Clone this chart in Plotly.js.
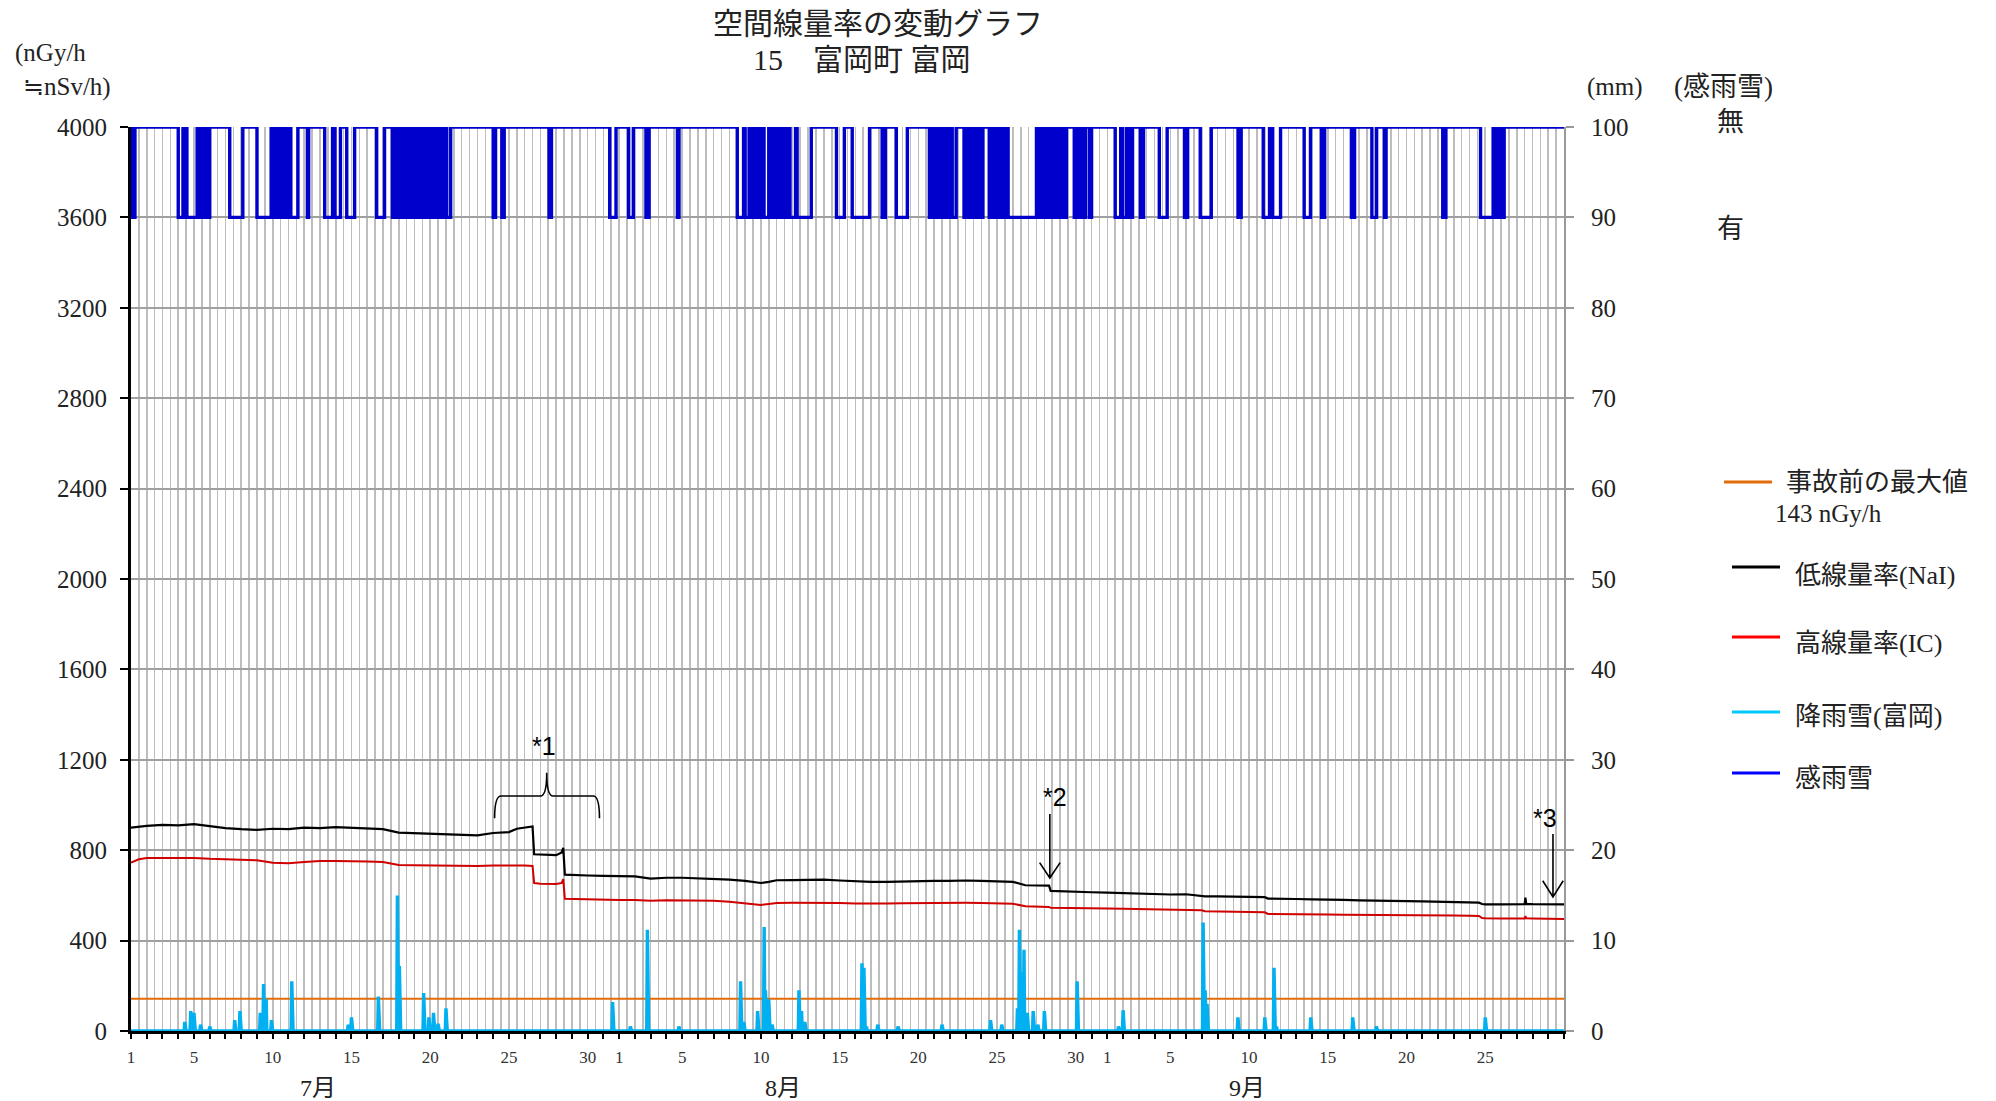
<!DOCTYPE html>
<html>
<head>
<meta charset="utf-8">
<script src="https://cdn.plot.ly/plotly-3.0.1.min.js"></script>
<style>
html,body{margin:0;padding:0;background:#fff;}
#chart{width:1996px;height:1101px;}
</style>
</head>
<body>
<div id="chart"></div>
<script>
// ---------- DATA ----------
// x = day index from 1 July 00:00 (0) to 30 Sept (91)
const dayTickDays = [0,4,9,14,19,24,29,31,35,40,45,50,55,60,62,66,71,76,81,86];
const dayTickText = ['1','5','10','15','20','25','30','1','5','10','15','20','25','30','1','5','10','15','20','25'];
const monthLabels = ['7月','8月','9月'];
const monthLabelDays = [11.9, 41.4, 70.9];

const preAccidentMax = 143; // nGy/h

// Low dose rate (NaI) readings, nGy/h
const naiT = [0,0.5,1,2,3,4,5,6,7,8,9,10,11,12,13,14,15,16,17,18,19,20,21,22,23,24,24.5,25,25.5,25.6,26,27,27.35,27.45,27.55,28,29,30,31,32,33,34,35,36,37,38,39,40,40.5,41,42,43,44,45,46,47,48,49,50,51,52,53,54,55,56,56.8,57.5,58.3,58.4,59,60,61,62,63,64,65,66,67,68,68.2,69,70,71,72,72.2,73,74,75,76,77,78,79,80,81,82,83,84,85,85.6,85.8,86,87,88,88.5,88.55,88.6,89,90,91];
const naiV = [900,905,908,912,910,915,905,898,893,890,895,893,900,898,902,900,896,893,878,876,872,870,868,866,876,880,895,900,905,782,780,778,790,810,692,690,688,686,686,684,674,678,678,676,675,670,664,655,660,667,668,668,670,666,662,660,660,662,663,664,664,666,664,662,660,645,644,643,620,618,616,614,612,610,608,605,604,605,600,596,596,594,593,592,586,586,584,582,582,580,578,578,577,575,574,573,572,571,568,562,560,560,561,561,590,562,561,560,560];

// High dose rate (IC) readings, nGy/h
const icT = naiT;
const icV = [745,760,765,766,764,766,762,760,760,755,745,742,748,752,752,752,750,748,735,733,732,731,730,730,732,733,733,732,730,655,652,650,655,672,585,584,582,580,580,580,576,578,578,577,576,572,566,558,562,566,567,567,568,566,564,563,564,565,566,566,566,567,566,565,563,552,550,549,545,544,544,543,542,541,540,538,537,538,534,530,529,528,527,525,518,518,516,515,515,514,514,513,513,512,512,512,511,510,509,500,499,498,498,498,508,499,498,497,496];

// Rainfall (Tomioka), hourly; only hours with rain listed (all other hours 0 mm)
const rainHour = [82,91,96,106,120,158,166,197,202,206,214,245,331,336,377,406,409,446,454,461,468,480,734,761,787,835,929,934,955,965,967,972,977,1018,1022,1027,1114,1117,1121,1138,1169,1236,1310,1327,1351,1354,1357,1361,1366,1375,1382,1392,1442,1505,1512,1634,1637,1640,1687,1728,1742,1746,1798,1862,1898,2064];
const rainMM   = [1.0,2.2,2.0,0.7,0.5,1.2,2.2,2.0,5.2,3.5,1.2,5.5,0.7,1.5,3.8,15.0,7.2,4.2,1.5,2.0,0.8,2.5,3.2,0.5,11.2,0.5,5.5,1.0,2.2,11.5,4.5,3.5,0.7,4.5,2.2,1.0,7.5,7.0,0.5,0.7,0.5,0.7,1.2,0.7,2.5,11.2,6.5,9.0,2.0,2.2,0.7,2.2,5.5,0.5,2.3,12.0,4.5,3.0,1.5,1.5,7.0,0.5,1.5,1.5,0.5,1.5];
const totalHours = 91*24;

// Rain sensor "detected" periods (start, end) in day index
const senseStart = [0.1,3.0,3.35,3.55,4.3,4.45,4.65,4.9,6.27,8.0,9.0,9.15,9.35,9.55,9.75,9.95,10.15,11.2,12.3,12.95,13.7,15.6,16.6,16.85,17.05,17.25,17.6,17.85,18.05,18.25,18.5,18.65,18.85,19.05,19.25,19.45,19.65,19.85,20.05,23.0,23.55,26.55,30.4,31.6,32.7,34.7,38.5,39.0,39.3,39.5,39.7,39.9,40.05,40.2,40.55,40.7,40.85,41.0,41.15,41.35,41.5,41.65,41.85,42.3,44.8,45.8,47.7,48.6,50.7,50.95,51.15,51.35,51.55,51.75,51.95,52.15,52.9,53.2,53.5,53.75,53.95,54.5,54.7,54.9,55.1,55.3,55.5,55.7,57.6,57.8,58.0,58.2,58.4,58.6,58.8,59.0,59.2,59.9,60.2,60.4,60.85,62.5,62.95,63.4,64.1,65.3,66.9,67.9,70.3,71.9,72.5,74.5,75.6,77.5,78.8,79.6,83.3,85.7,86.6,86.8,87.0];
const senseEnd   = [0.25,3.3,3.5,4.2,4.4,4.6,4.75,5.0,7.1,8.9,9.1,9.3,9.5,9.7,9.9,10.1,10.6,11.28,12.8,13.3,14.2,16.1,16.8,17.0,17.15,17.4,17.8,18.0,18.2,18.45,18.6,18.8,19.0,19.2,19.4,19.6,19.8,20.0,20.3,23.15,23.7,26.7,30.8,31.9,32.9,34.8,38.9,39.25,39.4,39.6,39.8,40.0,40.15,40.5,40.65,40.8,40.95,41.1,41.3,41.45,41.6,41.8,42.2,43.2,45.3,46.9,47.9,49.3,50.9,51.1,51.3,51.5,51.7,51.9,52.1,52.4,53.1,53.4,53.7,53.9,54.1,54.65,54.85,55.05,55.25,55.45,55.65,57.5,57.75,57.95,58.15,58.35,58.55,58.75,58.95,59.15,59.4,60.1,60.35,60.6,61.0,62.85,63.2,63.6,64.3,65.8,67.1,68.6,70.5,72.3,73.0,74.9,75.8,77.7,79.1,79.7,83.5,86.5,86.75,86.95,87.2];
const senseNone = 4000, senseYes = 3600; // plotted levels for 無 / 有

// ---------- BUILD ----------
const allDays = []; const allText = [];
for (let d = 0; d <= 91; d++) {
  allDays.push(d);
  const k = dayTickDays.indexOf(d);
  allText.push(k >= 0 ? dayTickText[k] : '');
}

const rainX = [], rainY = [];
const rainMap = {};
rainHour.forEach((h, i) => { rainMap[h] = rainMM[i]; });
for (let h = 0; h <= totalHours; h++) {
  rainX.push(h / 24);
  rainY.push(rainMap[h] !== undefined ? rainMap[h] : 0);
}

const sX = [0], sY = [senseNone];
senseStart.forEach((s, i) => {
  sX.push(s, s, senseEnd[i], senseEnd[i]);
  sY.push(senseNone, senseYes, senseYes, senseNone);
});
sX.push(91); sY.push(senseNone);

const FONT = 'Liberation Serif, "Noto Sans CJK JP", serif';

const traces = [
  {x: [0, 91], y: [preAccidentMax, preAccidentMax], type: 'scatter', mode: 'lines',
   line: {color: '#E36C0A', width: 2}, hoverinfo: 'skip', name: '事故前の最大値'},
  {x: icT, y: icV, type: 'scatter', mode: 'lines', line: {color: '#D00000', width: 2}, name: '高線量率(IC)'},
  {x: naiT, y: naiV, type: 'scatter', mode: 'lines', line: {color: '#000000', width: 2.2}, name: '低線量率(NaI)'},
  {x: sX, y: sY, type: 'scatter', mode: 'lines', line: {color: '#0000CC', width: 3.4}, name: '感雨雪'},
  {x: rainX, y: rainY, type: 'scatter', mode: 'lines', yaxis: 'y2', line: {color: '#00B0F0', width: 3.4}, name: '降雨雪(富岡)'}
];

const L = 131, R = 1564, T = 127, B = 1031;
const px = X => (X - L) / (R - L);
const py = Y => (B - Y) / (B - T);

const ann = [];
function txt(text, X, Y, size, anchor, fam) {
  ann.push({text: text, xref: 'paper', yref: 'paper', x: px(X), y: py(Y), xanchor: anchor || 'left',
    yanchor: 'middle', showarrow: false, font: {family: fam || FONT, size: size, color: '#222'}});
}
txt('空間線量率の変動グラフ', 878, 23, 30, 'center');
txt('15　富岡町 富岡', 862, 59, 30, 'center');
txt('(nGy/h', 13, 53, 25);
txt('≒nSv/h)', 21, 87, 25);
txt('(mm)', 1585, 87, 25);
txt('(感雨雪)', 1672, 87, 27);
txt('無', 1730, 122, 27, 'center');
txt('有', 1730, 229, 27, 'center');
txt('事故前の最大値', 1784, 482, 26);
txt('143 nGy/h', 1773, 513, 25);
txt('低線量率(NaI)', 1793, 575, 26);
txt('高線量率(IC)', 1793, 643, 26);
txt('降雨雪(富岡)', 1793, 716, 26);
txt('感雨雪', 1793, 778, 26);

monthLabels.forEach((m, i) => {
  ann.push({text: m, xref: 'x', yref: 'paper', x: monthLabelDays[i], y: py(1088), xanchor: 'center',
    yanchor: 'middle', showarrow: false, font: {family: FONT, size: 24, color: '#222'}});
});

const SANS = 'Liberation Sans, Arial, sans-serif';
[['*1', 26.2, 1262], ['*2', 58.7, 1036], ['*3', 89.8, 942]].forEach(a => {
  ann.push({text: a[0], xref: 'x', yref: 'y', x: a[1], y: a[2], xanchor: 'center', yanchor: 'middle',
    showarrow: false, font: {family: SANS, size: 25, color: '#000'}});
});

const shapes = [];
function lg(X1, X2, Y, color) {
  shapes.push({type: 'line', xref: 'paper', yref: 'paper', x0: px(X1), x1: px(X2), y0: py(Y), y1: py(Y),
    line: {color: color, width: 3}});
}
lg(1724, 1772, 482, '#E36C0A');
lg(1732, 1780, 567, '#000000');
lg(1732, 1780, 637, '#FF0000');
lg(1732, 1780, 712, '#00C8F8');
lg(1732, 1780, 773, '#0000FF');

// brace for *1
shapes.push({type: 'path', xref: 'x', yref: 'y', line: {color: '#000', width: 1.6},
  path: 'M 23.09 941 Q 23.09 1040 23.5 1040 L 26.0 1040 Q 26.4 1040 26.4 1143 Q 26.4 1040 26.8 1040 L 29.35 1040 Q 29.75 1040 29.75 941'});
// arrows for *2, *3
shapes.push({type: 'path', xref: 'x', yref: 'y', line: {color: '#000', width: 1.6},
  path: 'M 58.35 960 L 58.35 677 M 57.7 745 L 58.35 677 L 59.0 745'});
shapes.push({type: 'path', xref: 'x', yref: 'y', line: {color: '#000', width: 1.6},
  path: 'M 90.3 872 L 90.3 593 M 89.65 665 L 90.3 593 L 90.95 665'});

const layout = {
  width: 1996, height: 1101,
  margin: {l: L, r: 1996 - R, t: T, b: 1101 - B},
  paper_bgcolor: '#fff', plot_bgcolor: '#fff',
  showlegend: false,
  font: {family: FONT, color: '#222'},
  xaxis: {
    range: [0, 91], tickmode: 'array', tickvals: allDays, ticktext: allText,
    ticks: 'outside', ticklen: 5, tickwidth: 2, tickcolor: '#000',
    showline: true, linecolor: '#000', linewidth: 3, layer: 'below traces',
    showgrid: true, gridcolor: '#bdbdbd', gridwidth: 1.6, zeroline: false,
    minor: {tick0: 0.5, dtick: 1, showgrid: true, gridcolor: '#bdbdbd', gridwidth: 1.6, ticks: ''},
    tickfont: {family: FONT, size: 17, color: '#333'}, ticklabelstandoff: 4
  },
  yaxis: {
    range: [0, 4000], tickmode: 'linear', tick0: 0, dtick: 400,
    ticks: 'outside', ticklen: 8, tickwidth: 2, tickcolor: '#000',
    showline: true, linecolor: '#000', linewidth: 3,
    showgrid: true, gridcolor: '#a0a0a0', gridwidth: 2, zeroline: false,
    tickfont: {family: FONT, size: 25, color: '#222'}, ticklabelstandoff: 8
  },
  yaxis2: {
    overlaying: 'y', side: 'right', range: [0, 100], tickmode: 'linear', tick0: 0, dtick: 10,
    ticks: 'outside', ticklen: 8, tickwidth: 2, tickcolor: '#999',
    showline: true, linecolor: '#999', linewidth: 2, showgrid: false, zeroline: false,
    tickfont: {family: FONT, size: 25, color: '#222'}, ticklabelstandoff: 12
  },
  annotations: ann,
  shapes: shapes
};

Plotly.newPlot('chart', traces, layout, {displayModeBar: false, staticPlot: true});
</script>
</body>
</html>
